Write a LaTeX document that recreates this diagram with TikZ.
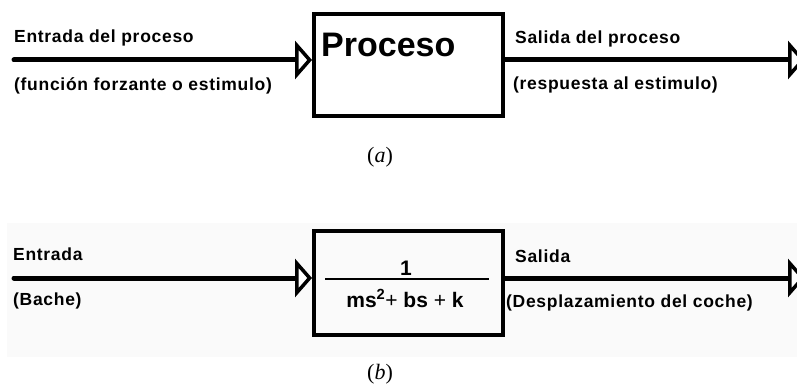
\documentclass[tikz,border=0pt]{standalone}
\usepackage{fontspec}
\setmainfont{Liberation Serif}
\newfontfamily\lblfont[LetterSpace=4]{Liberation Sans}
\newfontfamily\boxfont{Liberation Sans}
\usetikzlibrary{arrows.meta}
\definecolor{panelgray}{HTML}{FAFAFA}

\begin{document}
\begin{tikzpicture}[x=1pt,y=-1pt,
  lbl/.style={anchor=base west,inner sep=0pt,font=\lblfont\bfseries\fontsize{17.5}{20}\selectfont},
  blk/.style={draw,line width=4pt,minimum width=189pt,inner sep=0pt},
  sig/.style={line width=5pt,line cap=round,
    -{Triangle[length=17pt,width=38pt,line width=3.5pt,fill=white]}},
  subcap/.style={anchor=base,inner sep=0pt,font=\fontsize{22}{26}\selectfont}
]
\useasboundingbox (0,0) rectangle (797,387);
\fill[white] (0,0) rectangle (797,387);
\fill[panelgray] (7,223) rectangle (797,357);

% ---------- (a) generic process ----------
\coordinate (inA) at (14,60);
\coordinate (outA) at (805,60);
\node[blk,minimum height=102pt] (boxA) at (408.5,65) {};
\node[anchor=base west,inner sep=0pt,
      font=\boxfont\bfseries\fontsize{34}{38}\selectfont] (procA) at (321,57) {Proceso};
\draw[sig] (inA) -- (boxA.west |- inA);
\draw[sig] (boxA.east |- inA) -- (outA);
\node[lbl] (inAtop) at (14,43) {Entrada del proceso};
\node[lbl] (inAbot) at (14,91) {(función forzante o estimulo)};
\node[lbl] (outAtop) at (515,44) {Salida del proceso};
\node[lbl] (outAbot) at (513,90) {(respuesta al estimulo)};
\node[subcap] (capA) at (380,163) {(\textit{a})};

% ---------- (b) car suspension ----------
\coordinate (inB) at (14,278);
\coordinate (outB) at (805,278);
\node[blk,minimum height=104pt] (boxB) at (408.5,283) {};
\draw[line width=1.3pt] (325,279) -- (489,279);
\node[anchor=base,inner sep=0pt,font=\boxfont\bfseries\fontsize{21}{24}\selectfont]
  (num) at (406,275) {1};
\node[anchor=base,inner sep=0pt,font=\boxfont\fontsize{21}{24}\selectfont]
  (den) at (405,307) {\textbf{ms}\textsuperscript{\textbf{2}}+ \textbf{bs} + \textbf{k}};
\draw[sig] (inB) -- (boxB.west |- inB);
\draw[sig] (boxB.east |- inB) -- (outB);
\node[lbl] (inBtop) at (13,260) {Entrada};
\node[lbl] (inBbot) at (13,305) {(Bache)};
\node[lbl] (outBtop) at (515,262) {Salida};
\node[lbl] (outBbot) at (506,307) {(Desplazamiento del coche)};
\node[subcap] (capB) at (380,379) {(\textit{b})};
\end{tikzpicture}
\end{document}
